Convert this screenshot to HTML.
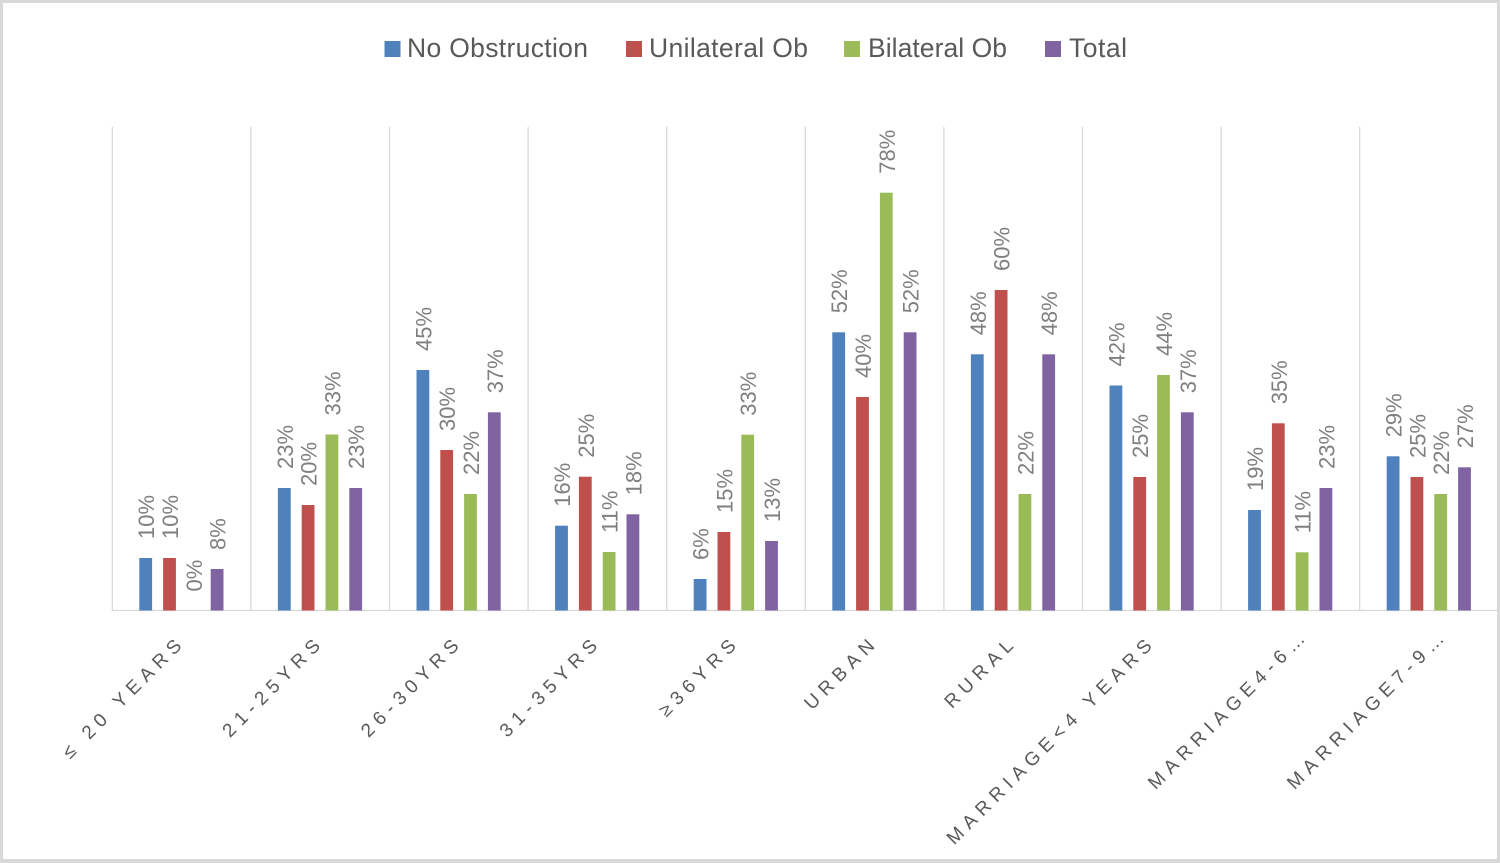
<!DOCTYPE html>
<html>
<head>
<meta charset="utf-8">
<style>
  html,body{margin:0;padding:0;background:#fff;}
  svg{display:block;}
  .dl{font-family:"Liberation Sans",sans-serif;font-size:22px;fill:#7f7f7f;}
  .ax{font-family:"Liberation Sans",sans-serif;font-size:19px;fill:#595959;letter-spacing:5.9px;}
  .lg{font-family:"Liberation Sans",sans-serif;font-size:26.5px;fill:#595959;}
</style>
</head>
<body>
<svg width="1500" height="863" viewBox="0 0 1500 863" xmlns="http://www.w3.org/2000/svg">
  <rect x="0" y="0" width="1500" height="863" fill="#ffffff"/>

  <!-- legend -->
  <rect x="384.5" y="41" width="16" height="16" fill="#4F81BD"/>
  <text class="lg" x="407" y="57" textLength="181" lengthAdjust="spacing">No Obstruction</text>
  <rect x="626" y="41" width="16" height="16" fill="#C0504D"/>
  <text class="lg" x="649" y="57" textLength="159" lengthAdjust="spacing">Unilateral Ob</text>
  <rect x="844" y="41" width="16" height="16" fill="#9BBB59"/>
  <text class="lg" x="868" y="57" textLength="139" lengthAdjust="spacing">Bilateral Ob</text>
  <rect x="1045" y="41" width="16" height="16" fill="#8064A2"/>
  <text class="lg" x="1069" y="57" textLength="58" lengthAdjust="spacing">Total</text>

  <!-- gridlines -->
  <g stroke="#d9d9d9" stroke-width="1.3">
    <line x1="112.3" y1="127" x2="112.3" y2="610.5"/>
    <line x1="250.9" y1="127" x2="250.9" y2="610.5"/>
    <line x1="389.5" y1="127" x2="389.5" y2="610.5"/>
    <line x1="528.1" y1="127" x2="528.1" y2="610.5"/>
    <line x1="666.7" y1="127" x2="666.7" y2="610.5"/>
    <line x1="805.3" y1="127" x2="805.3" y2="610.5"/>
    <line x1="943.9" y1="127" x2="943.9" y2="610.5"/>
    <line x1="1082.5" y1="127" x2="1082.5" y2="610.5"/>
    <line x1="1221.1" y1="127" x2="1221.1" y2="610.5"/>
    <line x1="1359.7" y1="127" x2="1359.7" y2="610.5"/>
    <line x1="112" y1="610.5" x2="1497" y2="610.5"/>
  </g>

  <!-- bars -->
  <g>
    <rect x="139.3" y="558" width="12.8" height="52.5" fill="#4F81BD"/>
    <rect x="163.1" y="558" width="12.8" height="52.5" fill="#C0504D"/>
    <rect x="210.7" y="569" width="12.8" height="41.5" fill="#8064A2"/>

    <rect x="277.9" y="488" width="12.8" height="122.5" fill="#4F81BD"/>
    <rect x="301.7" y="505" width="12.8" height="105.5" fill="#C0504D"/>
    <rect x="325.5" y="434.5" width="12.8" height="176" fill="#9BBB59"/>
    <rect x="349.3" y="488" width="12.8" height="122.5" fill="#8064A2"/>

    <rect x="416.5" y="370" width="12.8" height="240.5" fill="#4F81BD"/>
    <rect x="440.3" y="450" width="12.8" height="160.5" fill="#C0504D"/>
    <rect x="464.1" y="494" width="12.8" height="116.5" fill="#9BBB59"/>
    <rect x="487.9" y="412.3" width="12.8" height="198.2" fill="#8064A2"/>

    <rect x="555.1" y="525.7" width="12.8" height="84.8" fill="#4F81BD"/>
    <rect x="578.9" y="476.7" width="12.8" height="133.8" fill="#C0504D"/>
    <rect x="602.7" y="552" width="12.8" height="58.5" fill="#9BBB59"/>
    <rect x="626.5" y="514.3" width="12.8" height="96.2" fill="#8064A2"/>

    <rect x="693.7" y="579" width="12.8" height="31.5" fill="#4F81BD"/>
    <rect x="717.5" y="532" width="12.8" height="78.5" fill="#C0504D"/>
    <rect x="741.3" y="434.7" width="12.8" height="175.8" fill="#9BBB59"/>
    <rect x="765.1" y="541" width="12.8" height="69.5" fill="#8064A2"/>

    <rect x="832.3" y="332.3" width="12.8" height="278.2" fill="#4F81BD"/>
    <rect x="856.1" y="397" width="12.8" height="213.5" fill="#C0504D"/>
    <rect x="879.9" y="192.7" width="12.8" height="417.8" fill="#9BBB59"/>
    <rect x="903.7" y="332.3" width="12.8" height="278.2" fill="#8064A2"/>

    <rect x="970.9" y="354.3" width="12.8" height="256.2" fill="#4F81BD"/>
    <rect x="994.7" y="290" width="12.8" height="320.5" fill="#C0504D"/>
    <rect x="1018.5" y="494" width="12.8" height="116.5" fill="#9BBB59"/>
    <rect x="1042.3" y="354.3" width="12.8" height="256.2" fill="#8064A2"/>

    <rect x="1109.5" y="385.5" width="12.8" height="225" fill="#4F81BD"/>
    <rect x="1133.3" y="477" width="12.8" height="133.5" fill="#C0504D"/>
    <rect x="1157.1" y="375" width="12.8" height="235.5" fill="#9BBB59"/>
    <rect x="1180.9" y="412.3" width="12.8" height="198.2" fill="#8064A2"/>

    <rect x="1248.1" y="510" width="12.8" height="100.5" fill="#4F81BD"/>
    <rect x="1271.9" y="423.3" width="12.8" height="187.2" fill="#C0504D"/>
    <rect x="1295.7" y="552.3" width="12.8" height="58.2" fill="#9BBB59"/>
    <rect x="1319.5" y="488" width="12.8" height="122.5" fill="#8064A2"/>

    <rect x="1386.7" y="456.3" width="12.8" height="154.2" fill="#4F81BD"/>
    <rect x="1410.5" y="477" width="12.8" height="133.5" fill="#C0504D"/>
    <rect x="1434.3" y="494" width="12.8" height="116.5" fill="#9BBB59"/>
    <rect x="1458.1" y="467.3" width="12.8" height="143.2" fill="#8064A2"/>
  </g>

  <!-- data labels -->
  <g class="dl">
    <text transform="translate(154.2,539) rotate(-90)">10%</text>
    <text transform="translate(178,539) rotate(-90)">10%</text>
    <text transform="translate(201.8,591.5) rotate(-90)">0%</text>
    <text transform="translate(225.6,550) rotate(-90)">8%</text>

    <text transform="translate(292.8,469) rotate(-90)">23%</text>
    <text transform="translate(316.6,486) rotate(-90)">20%</text>
    <text transform="translate(340.4,415.5) rotate(-90)">33%</text>
    <text transform="translate(364.2,469) rotate(-90)">23%</text>

    <text transform="translate(431.4,351) rotate(-90)">45%</text>
    <text transform="translate(455.2,431) rotate(-90)">30%</text>
    <text transform="translate(479,475) rotate(-90)">22%</text>
    <text transform="translate(502.8,393.3) rotate(-90)">37%</text>

    <text transform="translate(570,506.7) rotate(-90)">16%</text>
    <text transform="translate(593.8,457.7) rotate(-90)">25%</text>
    <text transform="translate(617.6,533) rotate(-90)">11%</text>
    <text transform="translate(641.4,495.3) rotate(-90)">18%</text>

    <text transform="translate(708.6,560) rotate(-90)">6%</text>
    <text transform="translate(732.4,513) rotate(-90)">15%</text>
    <text transform="translate(756.2,415.7) rotate(-90)">33%</text>
    <text transform="translate(780,522) rotate(-90)">13%</text>

    <text transform="translate(847.2,313.3) rotate(-90)">52%</text>
    <text transform="translate(871,378) rotate(-90)">40%</text>
    <text transform="translate(894.8,173.7) rotate(-90)">78%</text>
    <text transform="translate(918.6,313.3) rotate(-90)">52%</text>

    <text transform="translate(985.8,335.3) rotate(-90)">48%</text>
    <text transform="translate(1009.6,271) rotate(-90)">60%</text>
    <text transform="translate(1033.4,475) rotate(-90)">22%</text>
    <text transform="translate(1057.2,335.3) rotate(-90)">48%</text>

    <text transform="translate(1124.4,366.5) rotate(-90)">42%</text>
    <text transform="translate(1148.2,458) rotate(-90)">25%</text>
    <text transform="translate(1172,356) rotate(-90)">44%</text>
    <text transform="translate(1195.8,393.3) rotate(-90)">37%</text>

    <text transform="translate(1263,491) rotate(-90)">19%</text>
    <text transform="translate(1286.8,404.3) rotate(-90)">35%</text>
    <text transform="translate(1310.6,533.3) rotate(-90)">11%</text>
    <text transform="translate(1334.4,469) rotate(-90)">23%</text>

    <text transform="translate(1401.6,437.3) rotate(-90)">29%</text>
    <text transform="translate(1425.4,458) rotate(-90)">25%</text>
    <text transform="translate(1449.2,475) rotate(-90)">22%</text>
    <text transform="translate(1473,448.3) rotate(-90)">27%</text>
  </g>

  <!-- category axis labels -->
  <g class="ax" text-anchor="end">
    <text transform="translate(182.6,647) rotate(-45)" x="5.9">≤ 20 YEARS</text>
    <text transform="translate(321.2,647) rotate(-45)" x="5.9">21-25YRS</text>
    <text transform="translate(459.8,647) rotate(-45)" x="5.9">26-30YRS</text>
    <text transform="translate(598.4,647) rotate(-45)" x="5.9">31-35YRS</text>
    <text transform="translate(737,647) rotate(-45)" x="5.9">≥36YRS</text>
    <text transform="translate(875.6,647) rotate(-45)" x="5.9">URBAN</text>
    <text transform="translate(1014.2,647) rotate(-45)" x="5.9">RURAL</text>
    <text transform="translate(1152.8,647) rotate(-45)" x="5.9">MARRIAGE&lt;4 YEARS</text>
    <text transform="translate(1306,640) rotate(-45)" x="5.9">MARRIAGE4-6…</text>
    <text transform="translate(1445,640) rotate(-45)" x="5.9">MARRIAGE7-9…</text>
  </g>

  <!-- outer frame -->
  <rect x="0" y="0" width="1500" height="3" fill="#d9d9d9"/>
  <rect x="0" y="0" width="3" height="863" fill="#d9d9d9"/>
  <rect x="1497" y="0" width="3" height="863" fill="#d9d9d9"/>
  <rect x="0" y="859" width="1500" height="4" fill="#d9d9d9"/>
</svg>
</body>
</html>
